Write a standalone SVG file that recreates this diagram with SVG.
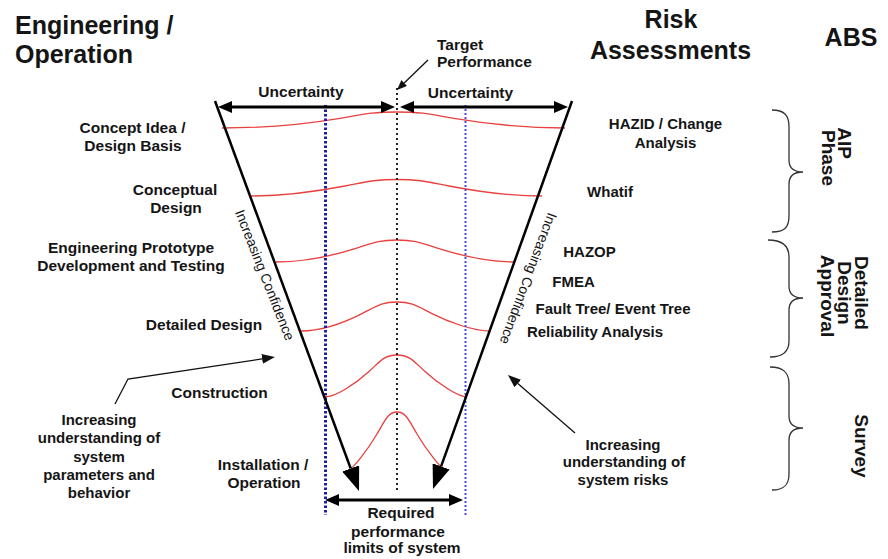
<svg xmlns="http://www.w3.org/2000/svg" width="888" height="559" viewBox="0 0 888 559">
<defs>
<style>
text{font-family:"Liberation Sans",Arial,sans-serif;fill:#151515;font-weight:bold}
.h{font-size:25px}
.hm{font-size:25px;text-anchor:middle}
.l{font-size:15.5px;text-anchor:middle}
.t{font-size:15.5px;text-anchor:start}
.r{font-size:15px;text-anchor:middle}
.c{font-size:14px;font-weight:normal;text-anchor:middle}
.v{font-size:19px;text-anchor:middle}
.g{fill:none;stroke:#e8413f;stroke-width:1.3}
.fun{stroke:#000;stroke-width:2.5;fill:none}
.thk{stroke:#000;stroke-width:3;fill:none}
.thin{stroke:#111;stroke-width:1.3;fill:none}
.br{fill:none;stroke:#333;stroke-width:1.3}
</style>
<marker id="big" viewBox="0 0 24 18" refX="0" refY="9" markerWidth="24" markerHeight="18" markerUnits="userSpaceOnUse" orient="auto"><path d="M0,0L24,9L0,18z"/></marker>
<marker id="sm" viewBox="0 0 14 12" refX="0" refY="6" markerWidth="14" markerHeight="12" markerUnits="userSpaceOnUse" orient="auto-start-reverse"><path d="M0,0L14,6L0,12z"/></marker>
<marker id="ar" viewBox="0 0 13 10" refX="0" refY="5" markerWidth="13" markerHeight="10" markerUnits="userSpaceOnUse" orient="auto"><path d="M0,0L13,5L0,10z" fill="#111"/></marker>
<marker id="ts" viewBox="0 0 10 8" refX="0" refY="4" markerWidth="10" markerHeight="8" markerUnits="userSpaceOnUse" orient="auto"><path d="M0,0L10,4L0,8z" fill="#111"/></marker>
</defs>
<rect width="888" height="559" fill="#fff"/>

<g id="curves">
<path class="g" d="M222,128 C271.6,128 311.5,123.1 340,118.3 C362.8,114.4 371.4,112 397,112 C422.6,112 431.2,114.4 454,118.3 C482.5,123.1 522.4,128 565,128"/>
<path class="g" d="M251,196 C282.6,196 319,191 345,186 C365.8,182 373.6,179.5 397,179.5 C420.4,179.5 428.2,182 449,186 C475,191 511.4,196 542,196"/>
<path class="g" d="M276,262 C304.6,262 334,255.3 355,248.6 C371.8,243.3 378.1,240 397,240 C415.9,240 422.2,243.3 439,248.6 C460,255.3 489.4,262 515,262"/>
<path class="g" d="M301,331 C321.1,331 345.3,322.2 362.5,313.4 C376.3,306.4 381.5,302 397,302 C412.5,302 417.7,306.4 431.5,313.4 C448.8,322.2 472.9,331 491,331"/>
<path class="g" d="M325,397 C335.4,397 355,384.3 369,371.5 C380.2,361.3 384.4,355 397,355 C409.6,355 413.8,361.3 425,371.5 C439,384.3 458.6,397 467,397"/>
<path class="g" d="M351,468 C353,468 367,451 377,434 C385,420.4 388,412 397,412 C406,412 409,420.4 417,434 C427,451 441,468 443,468"/>
</g>

<g id="limits">
<line x1="325.5" y1="105" x2="325.5" y2="515" stroke="#1f1fa8" stroke-width="3" stroke-dasharray="2.5 2"/>
<line x1="465.5" y1="105" x2="465.5" y2="515" stroke="#4a4ae0" stroke-width="2" stroke-dasharray="2 2"/>
<line x1="397" y1="88" x2="397" y2="490" stroke="#222" stroke-width="2" stroke-dasharray="2 3"/>
</g>

<g id="connectors">
<line class="fun" x1="215" y1="101" x2="350.7" y2="468.5" marker-end="url(#big)"/>
<line class="fun" x1="572" y1="101" x2="441.1" y2="466.4" marker-end="url(#big)"/>
<line class="thk" x1="232" y1="107" x2="381" y2="107" marker-start="url(#sm)" marker-end="url(#sm)"/>
<line class="thk" x1="414" y1="107" x2="554" y2="107" marker-start="url(#sm)" marker-end="url(#sm)"/>
<line class="thk" x1="339" y1="500" x2="449" y2="500" marker-start="url(#sm)" marker-end="url(#sm)"/>
<line class="thin" x1="428" y1="60" x2="404.2" y2="83" marker-end="url(#ts)"/>
<polyline class="thin" points="115,404 128,379 262.1,358.9" marker-end="url(#ar)"/>
<line class="thin" x1="575" y1="433" x2="517.8" y2="383.5" marker-end="url(#ar)"/>
</g>

<g id="braces">
<path class="br" d="M772,110 C784,110 789,115 789,127 L789,160 C789,168 793,172 803,172 C793,172 789,176 789,184 L789,216 C789,228 784,232 772,232"/>
<path class="br" d="M768,240 C781,240 789,245 789,257 L789,286 C789,294 793,298 803,298 C793,298 789,302 789,310 L789,341 C789,352 782,357 770,357"/>
<path class="br" d="M770,367 C783,367 789,372 789,384 L789,416 C789,424 793,428 803,428 C793,428 789,432 789,440 L789,474 C789,485 784,490 772,490"/>
</g>

<g id="headers">
<text class="h" x="15" y="34">Engineering /</text>
<text class="h" x="15" y="63">Operation</text>
<text class="hm" x="671" y="28">Risk</text>
<text class="hm" x="670.5" y="59">Assessments</text>
<text class="hm" x="851" y="46">ABS</text>
</g>

<g id="target"><text class="t" x="437" y="50">Target</text><text class="t" x="437" y="67">Performance</text></g>
<g id="uncertainty-left"><text class="l" x="301" y="97">Uncertainty</text></g>
<g id="uncertainty-right"><text class="l" x="470.5" y="98">Uncertainty</text></g>

<g id="concept-idea"><text class="l" x="132.5" y="133">Concept Idea /</text><text class="l" x="133" y="151">Design Basis</text></g>
<g id="conceptual-design"><text class="l" x="175" y="195">Conceptual</text><text class="l" x="176" y="213">Design</text></g>
<g id="eng-prototype"><text class="l" x="131" y="253">Engineering Prototype</text><text class="l" x="131" y="271">Development and Testing</text></g>
<g id="detailed-design"><text class="l" x="204" y="330">Detailed Design</text></g>
<g id="construction"><text class="l" x="219.5" y="398">Construction</text></g>
<g id="installation"><text class="l" x="263" y="470">Installation /</text><text class="l" x="264" y="488">Operation</text></g>
<g id="understanding-params"><text class="r" x="99" y="425">Increasing</text><text class="r" x="99" y="443">understanding of</text><text class="r" x="99" y="462">system</text><text class="r" x="99" y="480">parameters and</text><text class="r" x="99" y="498">behavior</text></g>

<g id="hazid"><text class="r" x="665.5" y="129">HAZID / Change</text><text class="r" x="665.5" y="148">Analysis</text></g>
<g id="whatif"><text class="r" x="610" y="197">Whatif</text></g>
<g id="hazop"><text class="r" x="589.5" y="257">HAZOP</text></g>
<g id="fmea"><text class="r" x="573.5" y="287">FMEA</text></g>
<g id="fault-tree"><text class="r" x="613" y="314">Fault Tree/ Event Tree</text></g>
<g id="reliability"><text class="r" x="595" y="337">Reliability Analysis</text></g>
<g id="understanding-risks"><text class="r" x="623" y="450">Increasing</text><text class="r" x="624" y="467">understanding of</text><text class="r" x="623" y="485">system risks</text></g>
<g id="required"><text class="l" x="401" y="518">Required</text><text class="l" x="398" y="537">performance</text><text class="l" x="402" y="553">limits of system</text></g>

<g id="confidence-left"><text class="c" transform="translate(260.3,276.7) rotate(68.5)">Increasing Confidence</text></g>
<g id="confidence-right"><text class="c" transform="translate(523.8,276.9) rotate(110.5)">Increasing Confidence</text></g>

<g id="aip-phase"><text class="v" transform="translate(838,143) rotate(90)">AIP</text><text class="v" transform="translate(822,158) rotate(90)">Phase</text></g>
<g id="detailed-approval"><text class="v" transform="translate(855,293) rotate(90)">Detailed</text><text class="v" transform="translate(838,293) rotate(90)">Design</text><text class="v" transform="translate(821,296) rotate(90)">Approval</text></g>
<g id="survey"><text class="v" transform="translate(855,446) rotate(90)">Survey</text></g>
</svg>
